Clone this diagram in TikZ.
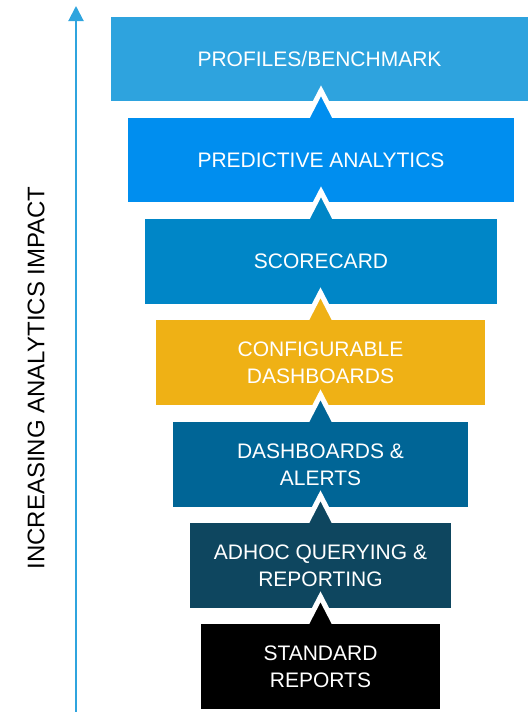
\documentclass[tikz,border=0pt]{standalone}
\usepackage{fontspec}
\setmainfont{Liberation Sans}
\usetikzlibrary{arrows.meta}

\definecolor{profblue}{HTML}{2EA3DE}
\definecolor{predblue}{HTML}{008EEF}
\definecolor{scoreblue}{HTML}{0086C7}
\definecolor{confyellow}{HTML}{EFB115}
\definecolor{dashblue}{HTML}{006596}
\definecolor{adhocblue}{HTML}{0E465F}
\definecolor{axisblue}{HTML}{2FA4DE}

\tikzset{
	level/.style={fill=#1, text=white, inner sep=0pt, minimum height=85pt,
		align=center, font=\fontsize{21}{27}\selectfont},
}
% upward notch on top of a level, white rim over the level above
\newcommand{\notch}[2]{%
	\begin{scope}
		\clip ([xshift=-40pt]#1.north) rectangle ([xshift=40pt,yshift=40pt]#1.north);
		\filldraw[fill=#2, draw=white, line width=5pt, miter limit=10]
			([xshift=-15pt,yshift=-2pt]#1.north) -- ([yshift=27pt]#1.north) -- ([xshift=15pt,yshift=-2pt]#1.north);
	\end{scope}}

\begin{document}
\begin{tikzpicture}[x=1pt, y=-1pt]
	\useasboundingbox (0,0) rectangle (528,712);

	\draw [axisblue, line width=2pt, -{Triangle[width=15pt,length=15pt]}] (76,712) coordinate (axbot) -- (76,6) coordinate (axtop);
	\node [rotate=90, font=\fontsize{24}{28}\selectfont] (axlabel) at (36,378) {INCREASING ANALYTICS IMPACT};

	\node [level=profblue, minimum width=417pt, minimum height=84pt] (L1) at (319.5,59) {PROFILES/BENCHMARK};
	\node [level=predblue, minimum width=386pt, minimum height=84pt] (L2) at (321,160) {PREDICTIVE ANALYTICS};
	\node [level=scoreblue, minimum width=352pt] (L3) at (321,261.5) {SCORECARD};
	\node [level=confyellow, minimum width=329pt] (L4) at (320.5,362.5) {CONFIGURABLE\\DASHBOARDS};
	\node [level=dashblue, minimum width=295pt] (L5) at (320.5,464.5) {DASHBOARDS \&\\ALERTS};
	\node [level=adhocblue, minimum width=261pt] (L6) at (320.5,565.5) {ADHOC QUERYING \&\\REPORTING};
	\node [level=black, minimum width=239pt] (L7) at (320.5,666.5) {STANDARD\\REPORTS};

	\notch{L2}{predblue}
	\notch{L3}{scoreblue}
	\notch{L4}{confyellow}
	\notch{L5}{dashblue}
	\notch{L6}{adhocblue}
	\notch{L7}{black}

\end{tikzpicture}
\end{document}
